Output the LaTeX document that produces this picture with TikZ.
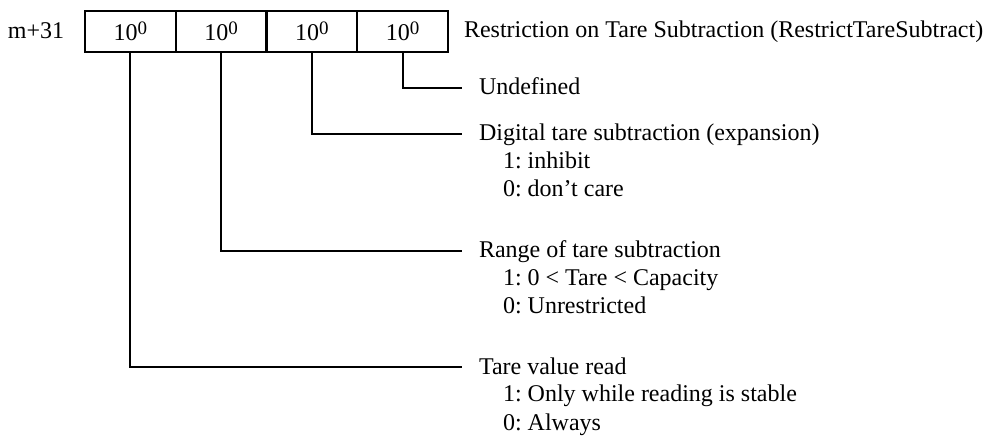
\documentclass[tikz,border=0pt]{standalone}
\usepackage{fontspec}
\setmainfont{Liberation Serif}
\newcommand{\powzero}{\raisebox{6.5pt}{\fontsize{19}{19}\selectfont 0}}
\begin{document}
\begin{tikzpicture}[x=1pt,y=-1pt,line width=2pt,
  font=\fontsize{24}{28}\selectfont\frenchspacing,
  cell/.style={draw,minimum width=90.75pt,minimum height=41pt,inner sep=0pt,outer sep=0pt},
  lbl/.style={anchor=west,inner sep=0pt,text height=16pt,text depth=2pt},
  lead/.style={shorten >=16pt}]
\useasboundingbox (0,0) rectangle (985,443);

   \node at (36,31) (reg) {m+31};
   \node[cell] at (130.4,31.5) (c1) {10\powzero};
   \node[cell] at (221.1,31.5) (c2) {10\powzero};
   \node[cell] at (311.9,31.5) (c3) {10\powzero};
   \node[cell] at (402.6,31.5) (c4) {10\powzero};
   \node[lbl] at (463,31) (title) {Restriction on Tare Subtraction (RestrictTareSubtract)};

   \node[lbl] at (478,88) (undef) {Undefined};
   \node[lbl] at (478,134) (digital) {Digital tare subtraction (expansion)};
   \node[lbl] at (502,162) (digital1) {1: inhibit};
   \node[lbl] at (502,190) (digital0) {0: don’t care};
   \node[lbl] at (478,251) (range) {Range of tare subtraction};
   \node[lbl] at (502,279) (range1) {1: 0 < Tare < Capacity};
   \node[lbl] at (502,307) (range0) {0: Unrestricted};
   \node[lbl] at (478,367) (tare) {Tare value read};
   \node[lbl] at (502,395) (tare1) {1: Only while reading is stable};
   \node[lbl] at (502,423) (tare0) {0: Always};

    \draw[lead] (c4.south) |- (undef.west);
    \draw[lead] (c3.south) |- (digital.west);
    \draw[lead] (c2.south) |- (range.west);
    \draw[lead] (c1.south) |- (tare.west);

\end{tikzpicture}
\end{document}
